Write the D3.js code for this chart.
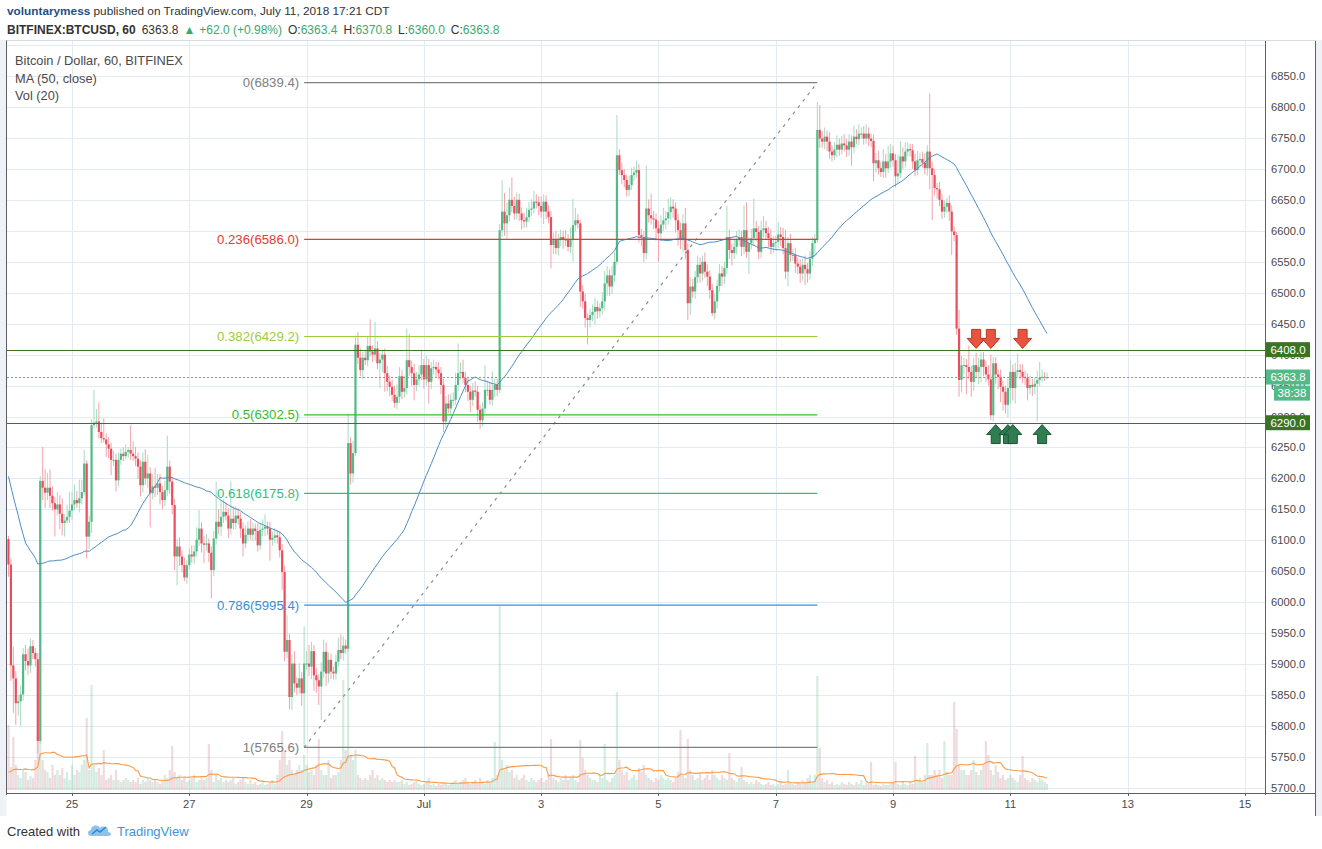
<!DOCTYPE html>
<html><head><meta charset="utf-8">
<script src="https://cdn.jsdelivr.net/npm/d3@7"></script>
<style>
body{margin:0;background:#fff;}
svg{display:block;font-family:"Liberation Sans",Arial,sans-serif;}
</style></head><body>
<svg id="chart" width="1322" height="849"></svg>
<script>
// ---------------- DATA ----------------
// hourly closes before the first visible candle (only used for the MA(50))
const prevCloses = [6720,6705,6600,6580,6680,6620,6600,6200,6250,6190,6240,6230,
 6180,6150,6120,6100,6130,6150,6140,6120,6143,
 6100,6080,6060,6050,6070,6090,6110,6100,6120,6100,6080,6144,
 6150,6160,6140,6120,6130,6110,6100,6120,6140,6150,6130,6140,6125,6130,6201,
 6102];
// visible hourly closes, first candle = 2018-06-23 22:00 UTC
const closes = [6061,5898,5877,5837,5840,5851,5916,5905,5898,5929,
5918,5908,5776,6196,6185,6177,6185,6172,6160,6150,
6158,6143,6128,6132,6138,6148,6158,6165,6160,6168,
6178,6224,6106,6130,6286,6290,6292,6275,6265,6263,
6255,6248,6230,6230,6197,6230,6240,6236,6243,6246,
6240,6236,6232,6219,6189,6227,6200,6208,6176,6187,
6185,6192,6178,6165,6181,6219,6195,6157,6074,6090,
6074,6060,6040,6060,6077,6074,6082,6101,6119,6095,
6093,6095,6080,6052,6103,6130,6122,6138,6146,6140,
6119,6135,6128,6140,6135,6119,6095,6109,6119,6109,
6119,6115,6092,6117,6119,6122,6119,6101,6104,6108,
6105,6084,6049,5920,5939,5847,5901,5869,5862,5877,
5853,5901,5901,5896,5921,5882,5874,5864,5888,5920,
5885,5907,5888,5885,5904,5923,5918,5930,5925,6257,
6208,6241,6416,6395,6375,6395,6391,6414,6405,6400,
6410,6386,6392,6400,6370,6356,6348,6335,6322,6332,
6365,6340,6346,6391,6380,6370,6351,6360,6368,6383,
6360,6383,6356,6378,6380,6376,6370,6351,6292,6321,
6313,6327,6327,6351,6370,6372,6362,6351,6340,6327,
6342,6340,6311,6294,6313,6343,6343,6327,6343,6351,
6343,6601,6631,6612,6625,6650,6640,6628,6650,6628,
6617,6615,6622,6634,6636,6647,6646,6640,6631,6647,
6631,6622,6577,6585,6572,6585,6590,6586,6585,6574,
6585,6609,6617,6612,6502,6486,6459,6456,6464,6469,
6477,6470,6475,6486,6515,6528,6510,6528,6550,6722,
6698,6690,6682,6666,6674,6690,6694,6698,6593,6590,
6564,6636,6625,6620,6618,6604,6596,6610,6617,6620,
6630,6639,6636,6617,6601,6585,6612,6569,6483,6510,
6502,6525,6545,6531,6550,6534,6526,6504,6467,6486,
6511,6531,6526,6540,6590,6569,6564,6574,6585,6590,
6574,6601,6566,6580,6588,6604,6598,6566,6601,6604,
6596,6588,6574,6580,6582,6594,6590,6572,6534,6580,
6561,6561,6547,6542,6531,6545,6538,6531,6555,6580,
6585,6763,6749,6744,6752,6744,6728,6722,6731,6739,
6731,6741,6738,6731,6744,6735,6752,6748,6757,6757,
6749,6757,6749,6745,6709,6714,6701,6695,6712,6701,
6712,6725,6714,6688,6693,6720,6712,6728,6732,6730,
6712,6698,6714,6716,6710,6701,6728,6701,6690,6669,
6667,6650,6631,6639,6645,6631,6599,6593,6442,6359,
6383,6383,6380,6372,6356,6383,6372,6380,6392,6380,
6368,6360,6302,6386,6368,6364,6348,6340,6319,6346,
6372,6346,6372,6375,6372,6364,6362,6346,6351,6348,
6353,6359,6363,6364,6363.4,6363.8];
// upper wick above the body, in dollars
const wickUp = [5,10,30,12,10,15,10,15,20,12,
10,8,10,8,55,30,24,30,15,10,
20,15,25,10,20,30,20,25,15,30,
20,22,5,10,10,53,20,31,15,32,
10,12,10,15,10,12,8,10,12,5,
40,20,15,10,10,15,20,30,10,20,
30,15,15,10,15,50,10,8,10,12,
15,10,12,8,10,15,10,20,30,10,
12,15,8,10,12,65,20,25,20,15,
12,60,20,15,12,10,10,15,12,15,
10,8,12,10,15,20,8,11,10,12,
8,10,10,10,40,10,15,20,10,25,
10,60,20,30,15,10,12,10,15,20,
15,12,10,8,12,20,25,15,10,48,
10,20,14,20,15,10,12,15,43,10,
43,12,10,8,10,12,10,12,15,20,
15,10,20,51,42,10,15,12,15,25,
10,15,10,10,12,8,12,10,10,12,
15,10,12,20,48,15,20,10,12,10,
12,15,10,8,10,40,15,12,30,10,
10,10,51,30,20,20,36,15,12,10,
10,12,15,12,15,18,12,10,15,12,
10,10,10,12,15,10,12,10,15,10,
20,43,20,10,5,10,12,8,10,12,
15,10,8,15,20,15,10,15,15,65,
10,12,10,8,15,12,10,15,10,10,
10,70,15,35,12,10,12,15,20,12,
22,15,12,10,10,12,15,25,10,15,
12,10,15,12,10,15,12,10,10,12,
10,15,12,10,50,12,10,12,15,12,
10,40,45,10,15,48,12,10,15,20,
12,10,15,12,10,20,12,15,30,10,
15,10,12,10,12,10,15,10,12,10,
10,45,40,12,15,10,15,10,12,15,
10,12,15,10,12,10,18,12,15,10,
12,15,10,8,10,12,15,10,20,12,
25,15,12,10,30,25,15,15,10,8,
10,12,15,10,12,15,10,94,10,10,
8,12,10,10,8,12,10,8,5,30,
15,12,10,34,10,12,20,15,12,12,
10,15,40,10,10,8,12,10,10,15,
20,12,15,27,10,12,10,8,15,10,
10,15,25,12,8,7];
// lower wick below the body, in dollars
const wickDown = [20,25,56,35,20,40,10,15,15,12,
10,12,20,5,20,25,12,20,12,44,
10,25,20,22,5,10,15,10,8,15,
10,5,35,20,18,5,8,10,8,5,
20,15,25,10,18,10,8,8,5,10,
10,8,12,20,18,12,10,15,55,10,
15,12,20,15,10,10,20,15,22,47,
15,12,6,10,8,10,12,8,10,15,
30,10,15,46,10,10,12,15,10,8,
15,10,10,10,10,15,21,8,10,8,
10,15,10,8,10,12,10,34,10,8,
10,12,29,15,10,20,21,15,12,10,
20,87.4,10,15,20,25,20,30,54,10,
20,15,12,10,10,8,10,12,8,5,
18,15,5,10,10,15,8,10,8,12,
10,10,40,20,30,15,15,10,8,10,
10,12,10,10,15,20,25,10,10,10,
15,10,35,12,10,12,10,15,17,10,
8,12,10,8,10,10,8,12,15,20,
10,8,20,14,10,8,10,8,10,12,
10,5,10,20,25,10,10,10,10,12,
15,10,10,8,10,8,10,15,10,20,
12,10,38,15,10,12,10,15,10,8,
10,35,10,8,25,12,15,40,12,10,
20,12,10,10,15,20,15,12,10,5,
8,15,12,11,10,8,10,8,12,15,
14,10,12,10,15,20,46,12,10,15,
10,12,15,20,25,15,20,15,27,19,
10,12,10,15,12,10,15,14,5,10,
12,10,15,12,10,15,20,10,12,10,
15,12,10,36,10,12,15,12,10,12,
10,15,12,10,12,10,15,10,12,24,
12,10,15,12,15,12,26,15,10,12,
20,5,15,10,12,15,12,10,8,12,
10,8,10,12,10,30,10,8,10,8,
10,8,12,10,29,15,10,8,10,15,
8,10,10,18,10,8,12,10,8,10,
12,10,8,10,8,10,12,34,73,12,
15,10,12,10,10,15,38,10,10,27,
20,15,44,12,24,15,10,20,25,15,
12,10,8,10,15,20,25,30,14,20,
25,20,25,10,12,10,12,20,10,15,
12,61,10,8,6,3.4];
// hourly volume (units of ~30 BTC) before the first visible candle (only for Vol MA 20)
const prevVolumes = [15,18,12,20,14,16,10,22,18,15,12,16,20,14,12,18,15,13,16];
const volumes = [65,23,53,25,15,12,20,18,10,14,
12,30,55,280,30,20,18,12,25,15,
20,15,22,12,18,10,25,15,20,18,
25,30,72,20,105,25,18,22,15,40,
10,12,15,10,20,10,8,10,12,10,
8,10,8,12,6,10,8,12,10,8,
10,8,6,10,15,12,20,44,18,12,
15,10,12,8,10,12,15,8,10,12,
10,12,46,20,8,15,10,12,8,10,
8,10,12,6,8,10,12,8,6,10,
6,8,5,6,8,5,6,8,10,6,
15,30,59,40,25,30,20,15,20,25,
20,35,25,18,20,15,25,51,20,15,
15,30,12,15,15,18,30,110,40,147,
35,30,40,15,12,10,12,10,15,20,
12,15,10,12,10,8,10,8,10,8,
8,10,6,8,5,6,8,10,6,5,
6,8,12,5,6,4,6,5,8,6,
5,6,8,10,6,8,10,12,8,6,
8,10,6,12,8,6,10,8,12,48,
15,185,30,20,25,18,20,12,15,10,
12,15,10,8,12,10,8,10,12,8,
10,15,51,12,10,8,12,10,15,10,
12,15,10,8,50,32,20,15,12,10,
10,8,15,12,46,10,8,12,15,98,
30,20,15,18,10,12,15,10,22,18,
25,15,12,10,8,12,10,15,12,10,
12,10,8,12,18,60,15,12,51,20,
15,10,12,18,10,12,15,10,20,15,
12,10,15,12,10,37,12,10,8,12,
23,10,8,6,8,6,10,8,6,5,
6,8,5,6,4,6,8,5,6,20,
8,6,5,8,6,10,8,12,15,8,
15,114,42,12,8,10,6,8,5,6,
5,8,6,5,8,6,5,8,6,10,
5,8,6,28,5,6,5,4,6,5,
5,6,8,28,6,5,8,6,5,8,
6,34,10,12,8,15,47,15,15,20,
15,20,12,49,18,15,15,88,61,25,
20,20,15,15,20,30,18,15,20,25,
49,35,20,15,25,18,12,15,10,12,
15,12,10,8,15,34,12,10,8,12,
10,8,12,10,8,6];

// Fibonacci retracement (drawn from candle 121 to candle 331)
const fibLow = 5765.6, fibHigh = 6839.4;
const fibStartIdx = 121, fibEndIdx = 331;
const fibRatios = [0, 0.236, 0.382, 0.5, 0.618, 0.786, 1];
const fibColors = ['#808080', '#e53935', '#9ccc3c', '#35bd35', '#2fbf82', '#3b8fd3', '#808080'];

// horizontal levels and last price
const levelPrices = [6408.0, 6290.0];
const lastPrice = 6363.8;
const countdown = '38:38';

// signal arrows
const sellIdx = [396, 402, 415];
const sellPrice = [6410, 6410, 6410];
const buyIdx = [404, 409, 411, 423];
const buyPrice = [6287, 6287, 6287, 6287];

// axes
const yTickValues = [5700,5750,5800,5850,5900,5950,6000,6050,6100,6150,6200,6250,6300,6350,6400,6450,6500,6550,6600,6650,6700,6750,6800,6850];
const gridPrices = yTickValues.concat([6900]);
const xTickDates = ['2018-06-25','2018-06-27','2018-06-29','2018-07-01','2018-07-03','2018-07-05','2018-07-07','2018-07-09','2018-07-11','2018-07-13','2018-07-15'];
const xTickLabels = ['25','27','29','Jul','3','5','7','9','11','13','15'];

// ---------------- CHART ----------------
if (closes.length !== 426 || wickUp.length !== 426 || wickDown.length !== 426 || volumes.length !== 426)
  throw new Error('lengths ' + closes.length + ' ' + wickUp.length + ' ' + wickDown.length + ' ' + volumes.length);

const svg = d3.select('#chart');
const pane = {l: 7, t: 40, r: 1265, b: 793};
const HOUR = 3600e3;
const base = Date.UTC(2018, 5, 25);
const tOf = i => new Date(base + (i - 26) * HOUR);
const x = d3.scaleUtc().domain([new Date(base - 26.6 * HOUR), new Date(base + 488.2 * HOUR)]).range([pane.l, pane.r]);
const y = d3.scaleLinear().domain([5700, 6850]).range([788, 76]);
const yv = d3.scaleLinear().domain([0, 150]).range([790, 640]);

const UP = '#53b987', DN = '#eb4d5c';
const UPW = '#a6dbc1', DNW = '#f3a2ab';

// backgrounds
svg.append('rect').attr('x', 0).attr('y', 0).attr('width', 1322).attr('height', 849).attr('fill', '#fff');
svg.append('rect').attr('x', 0).attr('y', 40).attr('width', 6.5).attr('height', 776).attr('fill', '#eef1f5');
svg.append('rect').attr('x', 1316).attr('y', 40).attr('width', 6).attr('height', 776).attr('fill', '#eef1f5');

svg.append('clipPath').attr('id', 'clip').append('rect')
  .attr('x', pane.l).attr('y', pane.t).attr('width', pane.r - pane.l).attr('height', pane.b - pane.t);
const g = svg.append('g').attr('clip-path', 'url(#clip)');

// grid
g.append('g').selectAll('line').data(gridPrices).join('line')
  .attr('x1', pane.l).attr('x2', pane.r)
  .attr('y1', d => Math.round(y(d)) + 0.5).attr('y2', d => Math.round(y(d)) + 0.5)
  .style('stroke', '#e2ebf1').style('stroke-width', 1);
const xTicks = xTickDates.map(s => new Date(s + 'T00:00:00Z'));
g.append('g').selectAll('line').data(xTicks).join('line')
  .attr('x1', d => Math.round(x(d)) + 0.5).attr('x2', d => Math.round(x(d)) + 0.5)
  .attr('y1', pane.t).attr('y2', pane.b)
  .style('stroke', '#e2ebf1').style('stroke-width', 1);

// candles data
const candles = closes.map((c, i) => {
  const o = i === 0 ? prevCloses[prevCloses.length - 1] : closes[i - 1];
  return {i, t: tOf(i), o, c, h: Math.max(o, c) + wickUp[i], l: Math.min(o, c) - wickDown[i], v: volumes[i], up: c >= o};
});
const bw = 2.2;

// volume
g.append('g').selectAll('rect').data(candles).join('rect')
  .attr('x', d => x(d.t) - bw / 2).attr('width', bw)
  .attr('y', d => yv(d.v)).attr('height', d => yv(0) - yv(d.v))
  .style('fill', d => d.up ? 'rgba(83,185,135,0.25)' : 'rgba(190,110,120,0.25)');

// volume MA(20)
const allV = prevVolumes.concat(volumes);
const vma = volumes.map((v, i) => { const j = i + prevVolumes.length; return {t: tOf(i), v: d3.mean(allV.slice(j - 19, j + 1))}; });
g.append('path').datum(vma)
  .attr('d', d3.line().x(d => x(d.t)).y(d => yv(d.v)))
  .style('fill', 'none').style('stroke', '#fb9a48').style('stroke-width', 1.1);

// wicks + bodies
g.append('g').selectAll('line').data(candles).join('line')
  .attr('x1', d => x(d.t)).attr('x2', d => x(d.t))
  .attr('y1', d => y(d.h)).attr('y2', d => y(d.l))
  .style('stroke', d => d.up ? UPW : DNW).style('stroke-width', 1);
g.append('g').selectAll('rect').data(candles).join('rect')
  .attr('x', d => x(d.t) - bw / 2).attr('width', bw)
  .attr('y', d => y(Math.max(d.o, d.c)))
  .attr('height', d => Math.max(1, Math.abs(y(d.o) - y(d.c))))
  .style('fill', d => d.up ? UP : DN);

// MA(50)
const allC = prevCloses.concat(closes);
const ma = closes.map((c, i) => { const j = i + prevCloses.length; return {t: tOf(i), v: d3.mean(allC.slice(j - 49, j + 1))}; });
g.append('path').datum(ma)
  .attr('d', d3.line().x(d => x(d.t)).y(d => y(d.v)))
  .style('fill', 'none').style('stroke', '#4a8cc4').style('stroke-width', 1);

// Fibonacci
const fx1 = x(tOf(fibStartIdx)), fx2 = x(tOf(fibEndIdx));
const fibs = fibRatios.map((r, k) => ({r, p: fibHigh - r * (fibHigh - fibLow), col: fibColors[k]}));
const fibG = svg.append('g');
fibG.selectAll('line').data(fibs).join('line')
  .attr('x1', fx1).attr('x2', fx2)
  .attr('y1', d => y(d.p)).attr('y2', d => y(d.p))
  .style('stroke', d => d.col).style('stroke-width', 1.2);
fibG.selectAll('text').data(fibs).join('text')
  .attr('x', fx1 - 5).attr('y', d => y(d.p) + 4.5)
  .attr('text-anchor', 'end').attr('font-size', 13.2).style('fill', d => d.col)
  .text(d => `${d.r}(${d.p.toFixed(1)})`);
g.append('line')
  .attr('x1', fx1).attr('y1', y(fibLow)).attr('x2', fx2).attr('y2', y(fibHigh))
  .style('stroke', '#8a8a8a').style('stroke-width', 1.2).style('stroke-dasharray', '3,5');

// horizontal levels
g.append('g').selectAll('line').data(levelPrices).join('line')
  .attr('x1', pane.l).attr('x2', pane.r)
  .attr('y1', d => Math.round(y(d)) + 0.5).attr('y2', d => Math.round(y(d)) + 0.5)
  .attr('shape-rendering', 'crispEdges')
  .style('stroke', '#3a7322').style('stroke-width', 1);
g.append('line')
  .attr('x1', pane.l).attr('x2', pane.r)
  .attr('y1', Math.round(y(lastPrice)) + 0.5).attr('y2', Math.round(y(lastPrice)) + 0.5)
  .style('stroke', '#53b987').style('stroke-width', 1).style('stroke-dasharray', '2,2');

// arrows
function downArrow(cx, tip) {
  return `M${cx - 4.5},${tip - 19} L${cx + 4.5},${tip - 19} L${cx + 4.5},${tip - 10} L${cx + 9},${tip - 10} L${cx},${tip} L${cx - 9},${tip - 10} L${cx - 4.5},${tip - 10} Z`;
}
function upArrow(cx, tip) {
  return `M${cx - 4.5},${tip + 19} L${cx + 4.5},${tip + 19} L${cx + 4.5},${tip + 10} L${cx + 9},${tip + 10} L${cx},${tip} L${cx - 9},${tip + 10} L${cx - 4.5},${tip + 10} Z`;
}
svg.append('g').selectAll('path').data(sellIdx).join('path')
  .attr('d', (d, k) => downArrow(x(tOf(d)), y(sellPrice[k])))
  .style('fill', '#e8553e').style('stroke', '#b33a28').style('stroke-width', 1);
svg.append('g').selectAll('path').data(buyIdx).join('path')
  .attr('d', (d, k) => upArrow(x(tOf(d)), y(buyPrice[k])))
  .style('fill', '#2f7d50').style('stroke', '#1d5535').style('stroke-width', 1);

// frame
svg.append('line').attr('x1', 6.5).attr('x2', 6.5).attr('y1', pane.t).attr('y2', pane.b + 2).style('stroke', '#5d606b');
svg.append('line').attr('x1', 6.5).attr('x2', 1316).attr('y1', pane.b + 0.5).attr('y2', pane.b + 0.5).style('stroke', '#5d606b');
svg.append('line').attr('x1', 1265.5).attr('x2', 1265.5).attr('y1', pane.t).attr('y2', pane.b + 2).style('stroke', '#5d606b');
svg.append('line').attr('x1', 1315.5).attr('x2', 1315.5).attr('y1', pane.t).attr('y2', 816).style('stroke', '#5d606b');
svg.append('line').attr('x1', 6.5).attr('x2', 1316).attr('y1', pane.t + 0.5).attr('y2', pane.t + 0.5).style('stroke', '#d6dce2');

// axes labels
svg.append('g').selectAll('text').data(yTickValues).join('text')
  .attr('x', 1271).attr('y', d => y(d) + 4).attr('font-size', 11.2).style('fill', '#4a4a4a')
  .text(d => d.toFixed(1));
svg.append('g').selectAll('line').data(xTicks).join('line')
  .attr('x1', d => Math.round(x(d)) + 0.5).attr('x2', d => Math.round(x(d)) + 0.5)
  .attr('y1', pane.b).attr('y2', pane.b + 3).style('stroke', '#5d606b');
svg.append('g').selectAll('text').data(xTicks).join('text')
  .attr('x', d => x(d)).attr('y', 808).attr('text-anchor', 'middle').attr('font-size', 11.2).style('fill', '#4a4a4a')
  .text((d, k) => xTickLabels[k]);

// price label boxes
function priceBox(p, bg, label, x0, w) {
  const yc = y(p);
  svg.append('rect').attr('x', x0).attr('y', yc - 7.5).attr('width', w).attr('height', 15).style('fill', bg);
  svg.append('text').attr('x', x0 + w / 2).attr('y', yc + 4).attr('text-anchor', 'middle')
    .attr('font-size', 11.5).style('fill', '#fff').text(label);
}
levelPrices.forEach(p => priceBox(p, '#3a7322', p.toFixed(1), 1266, 44));
priceBox(lastPrice, '#53b987', lastPrice.toFixed(1), 1266, 44);
priceBox(lastPrice - 26, '#53b987', countdown, 1274, 36);

// legend
const legend = ['Bitcoin / Dollar, 60, BITFINEX', 'MA (50, close)', 'Vol (20)'];
svg.append('g').selectAll('text').data(legend).join('text')
  .attr('x', 15).attr('y', (d, k) => 65 + k * 17.5).attr('font-size', 12.8).style('fill', '#4a4a4a').text(d => d);

// header
const h1 = svg.append('text').attr('x', 7).attr('y', 15).attr('font-size', 11.8).style('fill', '#333');
h1.append('tspan').attr('font-weight', 'bold').style('fill', '#1f4f85').text('voluntarymess');
h1.append('tspan').text(' published on TradingView.com, July 11, 2018 17:21 CDT');
const h2 = svg.append('text').attr('x', 7).attr('y', 34).attr('font-size', 12).style('fill', '#333');
const G2 = '#3ba86f';
const h2Parts = [
  {t: 'BITFINEX:BTCUSD, 60', bold: true, dx: 0},
  {t: '6363.8', dx: 6},
  {t: '▲', c: G2, dx: 5},
  {t: '+62.0 (+0.98%)', c: G2, dx: 4},
  {t: 'O:', dx: 6}, {t: '6363.4', c: G2, dx: 0},
  {t: 'H:', dx: 6}, {t: '6370.8', c: G2, dx: 0},
  {t: 'L:', dx: 6}, {t: '6360.0', c: G2, dx: 0},
  {t: 'C:', dx: 6}, {t: '6363.8', c: G2, dx: 0}
];
h2Parts.forEach(p => {
  const s = h2.append('tspan').attr('dx', p.dx).text(p.t);
  if (p.bold) s.attr('font-weight', 'bold');
  if (p.c) s.style('fill', p.c);
});

// footer
svg.append('text').attr('x', 7).attr('y', 836).attr('font-size', 13).style('fill', '#333').text('Created with');
const logo = svg.append('g').attr('transform', 'translate(88,824)');
logo.append('path').attr('d', 'M3,12 C-1,12 -1,6 3,6 C3,1 10,0 12,4 C15,1 21,3 20,8 C24,8 24,12 20,12 Z').style('fill', '#8cc3ec');
logo.append('path').attr('d', 'M4,10 L9,6 L12,8 L18,3').style('fill', 'none').style('stroke', '#2a86d6').style('stroke-width', 1.5);
svg.append('text').attr('x', 117).attr('y', 836).attr('font-size', 13).style('fill', '#3c96dc').text('TradingView');
</script>
</body></html>
